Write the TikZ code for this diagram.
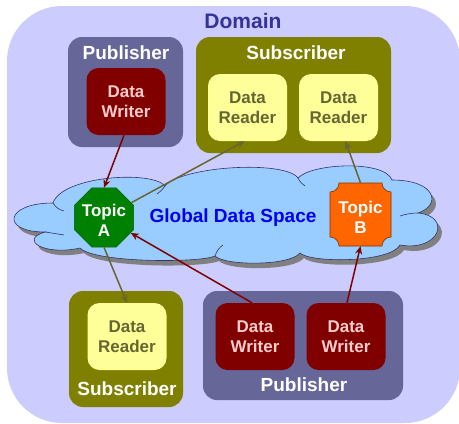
\documentclass[tikz,border=0pt]{standalone}
\usepackage{fontspec}
\setmainfont{Liberation Sans}
\usetikzlibrary{shapes.geometric,arrows.meta}
\definecolor{domainbg}{HTML}{CCCCFF}
\definecolor{domaintxt}{HTML}{333399}
\definecolor{pubfill}{HTML}{666699}
\definecolor{wrfill}{HTML}{800000}
\definecolor{wrtxt}{HTML}{FFCCCC}
\definecolor{subfill}{HTML}{808000}
\definecolor{rdfill}{HTML}{FFFF99}
\definecolor{rdtxt}{HTML}{666633}
\definecolor{cloudfill}{HTML}{99CCFF}
\definecolor{cloudline}{HTML}{333366}
\definecolor{gdstxt}{HTML}{0000EE}
\definecolor{topicAc}{HTML}{008000}
\definecolor{topicBc}{HTML}{FF6600}
\definecolor{shadowc}{HTML}{808080}
\begin{document}
\begin{tikzpicture}[x=1pt,y=-1pt,
  pubbox/.style={rounded corners=14pt, fill=pubfill, inner sep=0pt},
  subbox/.style={rounded corners=14pt, fill=subfill, inner sep=0pt},
  inbox/.style={rounded corners=12pt, minimum width=79pt, minimum height=67pt,
     font=\fontsize{17}{20}\selectfont\bfseries, align=center, inner sep=0pt},
  wrbox/.style={inbox, fill=wrfill, text=wrtxt},
  rdbox/.style={inbox, fill=rdfill, text=rdtxt},
  boxtitle/.style={font=\fontsize{19}{22}\selectfont\bfseries, text=white, inner sep=0pt},
  wrarrow/.style={draw=wrfill, line width=1.5pt, -{Stealth[length=8pt,width=7pt]}},
  rdarrow/.style={draw=rdtxt, line width=1.5pt, -{Stealth[length=8pt,width=7pt]}},
  topictxt/.style={font=\fontsize{17}{20}\selectfont\bfseries, text=white, align=center, inner sep=0pt}
]
\useasboundingbox (0,0) rectangle (459,424);
\fill[white] (0,0) rectangle (459,424);
% domain
\node[fill=domainbg, rounded corners=55pt, minimum width=453pt, minimum height=417pt, inner sep=0pt] (domain) at (233.5,214.5) {};
\node[font=\fontsize{21}{24}\selectfont\bfseries, text=domaintxt, inner sep=0pt] (domaintitle) at (243,21) {Domain};

% top publisher
\node[pubbox, minimum width=115pt, minimum height=110pt] (pub1) at (125.5,92) {};
\node[boxtitle] (pub1t) at (126,53) {Publisher};
\node[wrbox] (dw1) at (126,101.5) {Data\\Writer};

% top subscriber
\node[subbox, minimum width=195pt, minimum height=116pt] (sub1) at (293.5,95) {};
\node[boxtitle] (sub1t) at (296,53) {Subscriber};
\node[rdbox] (dr1) at (247.5,107.5) {Data\\Reader};
\node[rdbox] (dr2) at (338.5,107.5) {Data\\Reader};

% bottom subscriber
\node[subbox, minimum width=114pt, minimum height=116pt] (sub2) at (126,349) {};
\node[rdbox] (dr3) at (127,336.5) {Data\\Reader};
\node[boxtitle] (sub2t) at (127,389) {Subscriber};

% bottom publisher
\node[pubbox, minimum width=200pt, minimum height=109pt] (pub2) at (303,345.5) {};
\node[wrbox] (dw3) at (255,336.5) {Data\\Writer};
\node[wrbox] (dw4) at (346,336.5) {Data\\Writer};
\node[boxtitle] (pub2t) at (304,385) {Publisher};

% cloud shadow and cloud
\def\cloudpath{(45,232)
 .. controls (0,232) and (5,203) .. (53,203)
 .. controls (62,176) and (152,170) .. (165,186)
 .. controls (182,166) and (285,160) .. (298,178)
 .. controls (312,163) and (385,160) .. (392,180)
 .. controls (436,180) and (442,205) .. (418,213)
 .. controls (452,216) and (440,252) .. (400,245)
 .. controls (390,263) and (310,263) .. (300,253)
 .. controls (290,266) and (225,266) .. (215,256)
 .. controls (200,263) and (95,263) .. (80,248)
 .. controls (45,256) and (18,240) .. (45,232) -- cycle}
\fill[shadowc, shift={(4pt,-5pt)}] \cloudpath;
\filldraw[fill=cloudfill, draw=cloudline, line width=0.6pt] \cloudpath;
\draw[cloudline, line width=0.6pt] (53,203) .. controls (56,208) and (60,210) .. (64,211);
\draw[cloudline, line width=0.6pt] (165,186) .. controls (162,190) and (160,192) .. (157,194);
\draw[cloudline, line width=0.6pt] (298,178) .. controls (300,182) and (302,184) .. (305,186);
\draw[cloudline, line width=0.6pt] (418,213) .. controls (412,213) and (406,214) .. (400,216);
\draw[cloudline, line width=0.6pt] (215,256) .. controls (217,250) and (220,247) .. (223,245);
\draw[cloudline, line width=0.6pt] (45,232) .. controls (52,233) and (58,234) .. (64,235);
\node[font=\fontsize{19}{22}\selectfont\bfseries, text=gdstxt, inner sep=0pt] (gds) at (233,218) {Global Data Space};

% Topic A
\node[regular polygon, regular polygon sides=8, minimum size=64pt, fill=topicAc, draw=black!60!green, line width=0.6pt, inner sep=0pt] (ta) at (104,217.5) {};
\node[topictxt] (tat) at (104,220) {Topic\\A};

% Topic B
\def\r{9}
\fill[topicBc, draw=black!50!topicBc, line width=0.6pt]
  (330+\r,183) -- (391-\r,183)
  .. controls (391-\r,183+0.55*\r) and (391-0.55*\r,183+\r) .. (391,183+\r)
  -- (391,246-\r)
  .. controls (391-0.55*\r,246-\r) and (391-\r,246-0.55*\r) .. (391-\r,246)
  -- (330+\r,246)
  .. controls (330+\r,246-0.55*\r) and (330+0.55*\r,246-\r) .. (330,246-\r)
  -- (330,183+\r)
  .. controls (330+0.55*\r,183+\r) and (330+\r,183+0.55*\r) .. (330+\r,183) -- cycle;
\node[minimum width=61pt, minimum height=63pt, inner sep=0pt] (tb) at (360.5,214.5) {};
\node[topictxt] (tbt) at (360.5,217) {Topic\\B};

% connectors
\draw[wrarrow] ([xshift=-2pt]dw1.south) -- (ta.north);
\draw[rdarrow] (ta) -- ([xshift=-3pt]dr1.south);
\draw[rdarrow] (tb.north) -- ([xshift=7pt]dr2.south);
\draw[rdarrow] (ta.south) -- (dr3.north);
\draw[wrarrow] ([xshift=-3pt]dw3.north) -- (ta);
\draw[wrarrow] ([xshift=1pt]dw4.north) -- (tb.south);
\end{tikzpicture}
\end{document}
